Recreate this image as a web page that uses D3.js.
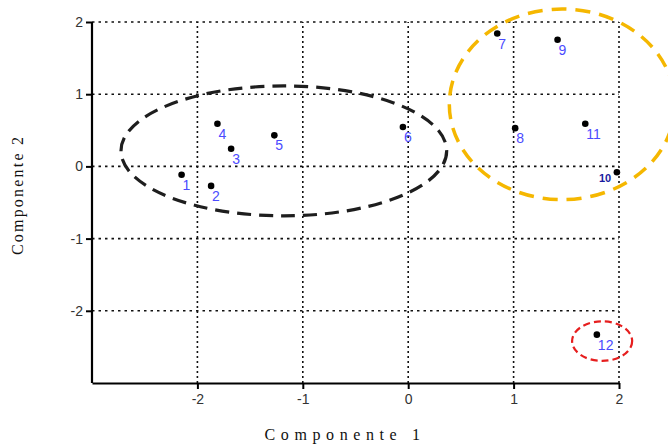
<!DOCTYPE html>
<html><head><meta charset="utf-8">
<script src="https://cdn.jsdelivr.net/npm/d3@7"></script>
<style>body{margin:0;background:#fff}svg{display:block}</style>
</head><body>
<svg id="c" width="668" height="444"></svg>
<script>
const xTicks = [-2, -1, 0, 1, 2];
const yTicks = [-2, -1, 0, 1, 2];
const ids = ["1","2","3","4","5","6","7","8","9","10","11","12"];
const xs = [-2.15, -1.87, -1.68, -1.81, -1.27, -0.05, 0.845, 1.015, 1.417, 1.98, 1.68, 1.79];
const ys = [-0.115, -0.27, 0.245, 0.59, 0.43, 0.545, 1.84, 0.53, 1.755, -0.08, 0.59, -2.33];
const ellipseCx = [-1.18, 1.46, 1.84];
const ellipseCy = [0.215, 0.86, -2.42];
const ellipseRx = [1.545, 1.07, 0.285];
const ellipseRy = [0.90, 1.32, 0.274];
const ellipseColor = ["#1e1e1e", "#f5b700", "#e61e1e"];

const svg = d3.select("#c");
const x = d3.scaleLinear().domain([-3, 2]).range([92, 619]);
const y = d3.scaleLinear().domain([-3, 2]).range([383, 22]);

// grid
svg.append("g").selectAll("line").data(yTicks).join("line")
  .attr("x1", x(-3)).attr("x2", x(2)).attr("y1", d => y(d)).attr("y2", d => y(d))
  .attr("stroke", "#111").attr("stroke-width", 1.6).attr("stroke-dasharray", "2.5,4");
svg.append("g").selectAll("line").data(xTicks).join("line")
  .attr("y1", y(-3)).attr("y2", y(2)).attr("x1", d => x(d)).attr("x2", d => x(d))
  .attr("stroke", "#111").attr("stroke-width", 1.6).attr("stroke-dasharray", "2,3");

// axes
const fmt = d => String(d);
const xa = svg.append("g").attr("transform", `translate(0,${y(-3)})`)
  .call(d3.axisBottom(x).tickValues(xTicks).tickFormat(fmt).tickSize(6).tickPadding(5).tickSizeOuter(0));
const ya = svg.append("g").attr("transform", `translate(${x(-3)},0)`)
  .call(d3.axisLeft(y).tickValues(yTicks).tickFormat(fmt).tickSize(6).tickPadding(3).tickSizeOuter(0));
[xa, ya].forEach(a => {
  a.select(".domain").attr("stroke", "#000").attr("stroke-width", 2.2);
  a.selectAll(".tick line").attr("stroke", "#000").attr("stroke-width", 2);
  a.selectAll(".tick text").attr("fill", "#333").attr("font-family", "Liberation Sans, Arial, sans-serif").attr("font-size", 14);
});
ya.select(".domain").attr("d", `M0,${y(-3)}V${y(2)}`);

// ellipses
svg.append("g").selectAll("ellipse").data(ellipseCx).join("ellipse")
  .attr("cx", d => x(d)).attr("cy", (d, i) => y(ellipseCy[i]))
  .attr("rx", (d, i) => x(ellipseRx[i]) - x(0)).attr("ry", (d, i) => y(0) - y(ellipseRy[i]))
  .attr("fill", "none").attr("stroke", (d, i) => ellipseColor[i])
  .attr("stroke-width", (d, i) => [3.2, 3.5, 2.2][i])
  .attr("stroke-dasharray", (d, i) => ["14,8", "15,9", "7,4"][i]);

// points
svg.append("g").selectAll("circle").data(xs).join("circle")
  .attr("cx", d => x(d)).attr("cy", (d, i) => y(ys[i])).attr("r", 3.3).attr("fill", "#000");

// labels
svg.append("g").selectAll("text").data(ids).join("text")
  .attr("x", (d, i) => d === "10" ? x(xs[i]) - 18 : x(xs[i]) + 1)
  .attr("y", (d, i) => d === "10" ? y(ys[i]) + 10 : y(ys[i]) + 15)
  .attr("fill", d => d === "10" ? "#1a1aa0" : "#4b4bff")
  .attr("font-weight", d => d === "10" ? "bold" : "normal")
  .attr("font-size", d => d === "10" ? 11 : 14)
  .attr("font-family", "Liberation Sans, Arial, sans-serif")
  .text(d => d);

// titles
svg.append("text").attr("x", 345).attr("y", 440).attr("text-anchor", "middle")
  .attr("font-family", "Liberation Serif, Times New Roman, serif").attr("font-size", 16)
  .attr("letter-spacing", 5.6).attr("fill", "#111").text("Componente 1");
svg.append("text").attr("transform", "translate(23,195) rotate(-90)").attr("text-anchor", "middle")
  .attr("font-family", "Liberation Serif, Times New Roman, serif").attr("font-size", 16)
  .attr("letter-spacing", 2.2).attr("fill", "#111").text("Componente 2");
</script>
</body></html>
